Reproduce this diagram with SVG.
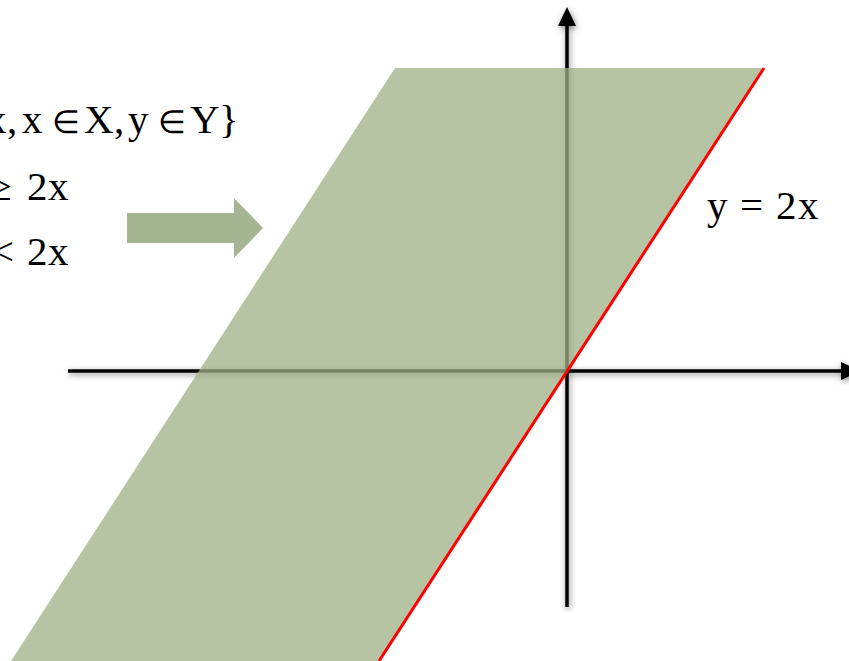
<svg xmlns="http://www.w3.org/2000/svg" width="849" height="661" viewBox="0 0 849 661">
<style>
.t{font-family:"Liberation Serif","Times New Roman",serif;font-size:41px;fill:#000}
.m{font-size:32px}
.ax{stroke:#000;stroke-width:3.5;fill:none}
</style>
<defs>
<filter id="sh" x="-20%" y="-20%" width="140%" height="140%">
<feGaussianBlur in="SourceAlpha" stdDeviation="3"/>
<feOffset dx="1" dy="2" result="b"/>
<feComponentTransfer><feFuncA type="linear" slope="0.5"/></feComponentTransfer>
<feMerge><feMergeNode/><feMergeNode in="SourceGraphic"/></feMerge>
</filter>
</defs>
<rect width="849" height="661" fill="#fff"/>
<g id="axes" filter="url(#sh)">
<line class="ax" x1="567" y1="22" x2="567" y2="607"/>
<polygon points="567,7 558,26 576,26" fill="#000"/>
<line class="ax" x1="68" y1="371" x2="845" y2="371"/>
<polygon points="860,371 841,362 841,380" fill="#000"/>
</g>
<g id="region">
<polygon points="395,68 764,68 379,661 11,661" fill="#9db086" fill-opacity="0.75"/>
<line x1="764" y1="68" x2="379" y2="661" stroke="#ff0000" stroke-width="3"/>
</g>
<g id="arrow">
<polygon points="127,213 234,213 234,198 263,228 234,258 234,243 127,243" fill="#a5b592"/>
</g>
<g id="labels">
<text class="t" y="133"><tspan x="-14">x</tspan><tspan x="7">,</tspan><tspan x="22">x</tspan><tspan class="m" x="52">∈</tspan><tspan x="84">X</tspan><tspan x="114">,</tspan><tspan x="128">y</tspan><tspan class="m" x="158">∈</tspan><tspan x="190">Y</tspan><tspan x="219">}</tspan></text>
<text class="t" y="200"><tspan x="-11">≥</tspan><tspan x="27">2</tspan><tspan x="48">x</tspan></text>
<text class="t" y="265"><tspan x="-9">&lt;</tspan><tspan x="27">2</tspan><tspan x="48">x</tspan></text>
<text class="t" y="219"><tspan x="707">y</tspan><tspan x="740">=</tspan><tspan x="776">2</tspan><tspan x="798">x</tspan></text>
</g>
</svg>
